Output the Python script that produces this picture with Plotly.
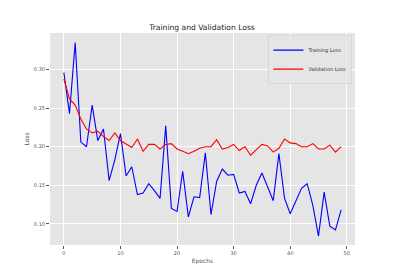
import plotly.graph_objects as go

epochs = list(range(50))
training_loss = [0.296, 0.243, 0.335, 0.206, 0.200, 0.254, 0.208, 0.223, 0.156, 0.183,
                 0.217, 0.162, 0.174, 0.138, 0.140, 0.152, 0.143, 0.133, 0.227, 0.120,
                 0.116, 0.168, 0.109, 0.135, 0.134, 0.192, 0.112, 0.155, 0.171, 0.163,
                 0.164, 0.140, 0.142, 0.126, 0.150, 0.166, 0.148, 0.130, 0.191, 0.133,
                 0.113, 0.130, 0.146, 0.152, 0.124, 0.084, 0.141, 0.097, 0.092, 0.118]
validation_loss = [0.288, 0.262, 0.254, 0.236, 0.223, 0.218, 0.220, 0.213, 0.208, 0.218,
                   0.208, 0.203, 0.199, 0.210, 0.194, 0.203, 0.203, 0.197, 0.203, 0.204,
                   0.197, 0.194, 0.191, 0.194, 0.198, 0.200, 0.200, 0.209, 0.197, 0.199,
                   0.203, 0.195, 0.200, 0.189, 0.196, 0.203, 0.201, 0.193, 0.198, 0.210,
                   0.205, 0.204, 0.200, 0.200, 0.204, 0.197, 0.197, 0.202, 0.193, 0.200]
x_ticks = [0, 10, 20, 30, 40, 50]
y_ticks = [0.10, 0.15, 0.20, 0.25, 0.30]
y_tick_labels = ["0.10", "0.15", "0.20", "0.25", "0.30"]

font_family = "DejaVu Sans"

# The page body adds an 8px margin, so the figure is sized to fit inside it.
W, H = 379, 260

fig = go.Figure()
fig.add_trace(go.Scatter(x=epochs, y=training_loss, mode="lines", name="Training Loss",
                         line=dict(color="blue", width=1.1)))
fig.add_trace(go.Scatter(x=epochs, y=validation_loss, mode="lines", name="Validation Loss",
                         line=dict(color="red", width=1.1)))

fig.update_layout(
    width=W, height=H,
    margin=dict(l=42, r=32, t=25, b=23),
    paper_bgcolor="white",
    plot_bgcolor="#E5E5E5",
    font=dict(family=font_family, color="#555555", size=5),
    title=dict(text="Training and Validation Loss", x=194 / W, xanchor="center",
               y=1 - 19 / H, yanchor="middle",
               font=dict(size=7.6, color="#222222", family=font_family)),
    showlegend=True,
    legend=dict(x=0.99, y=0.99, xanchor="right", yanchor="top",
                bgcolor="rgba(229,229,229,0.8)", bordercolor="#CCCCCC", borderwidth=0.5,
                font=dict(size=5, color="#333333", family=font_family),
                itemwidth=30, tracegroupgap=0),
)
fig.update_xaxes(
    range=[-2.45, 51.45], tickvals=x_ticks, ticks="outside", ticklen=3,
    tickcolor="#555555", tickwidth=0.6,
    showgrid=True, gridcolor="white", gridwidth=1, zeroline=False, showline=False,
    title=dict(text="Epochs", font=dict(size=6, color="#555555"), standoff=3),
    tickfont=dict(size=5, color="#555555"), automargin=False,
)
fig.update_yaxes(
    range=[0.0725, 0.3475], tickvals=y_ticks, ticktext=y_tick_labels, ticks="outside",
    ticklen=3, tickcolor="#555555", tickwidth=0.6,
    showgrid=True, gridcolor="white", gridwidth=1, zeroline=False, showline=False,
    title=dict(text="Loss", font=dict(size=6, color="#555555"), standoff=3),
    tickfont=dict(size=5, color="#555555"), automargin=False,
)

fig.write_html("out.html")
